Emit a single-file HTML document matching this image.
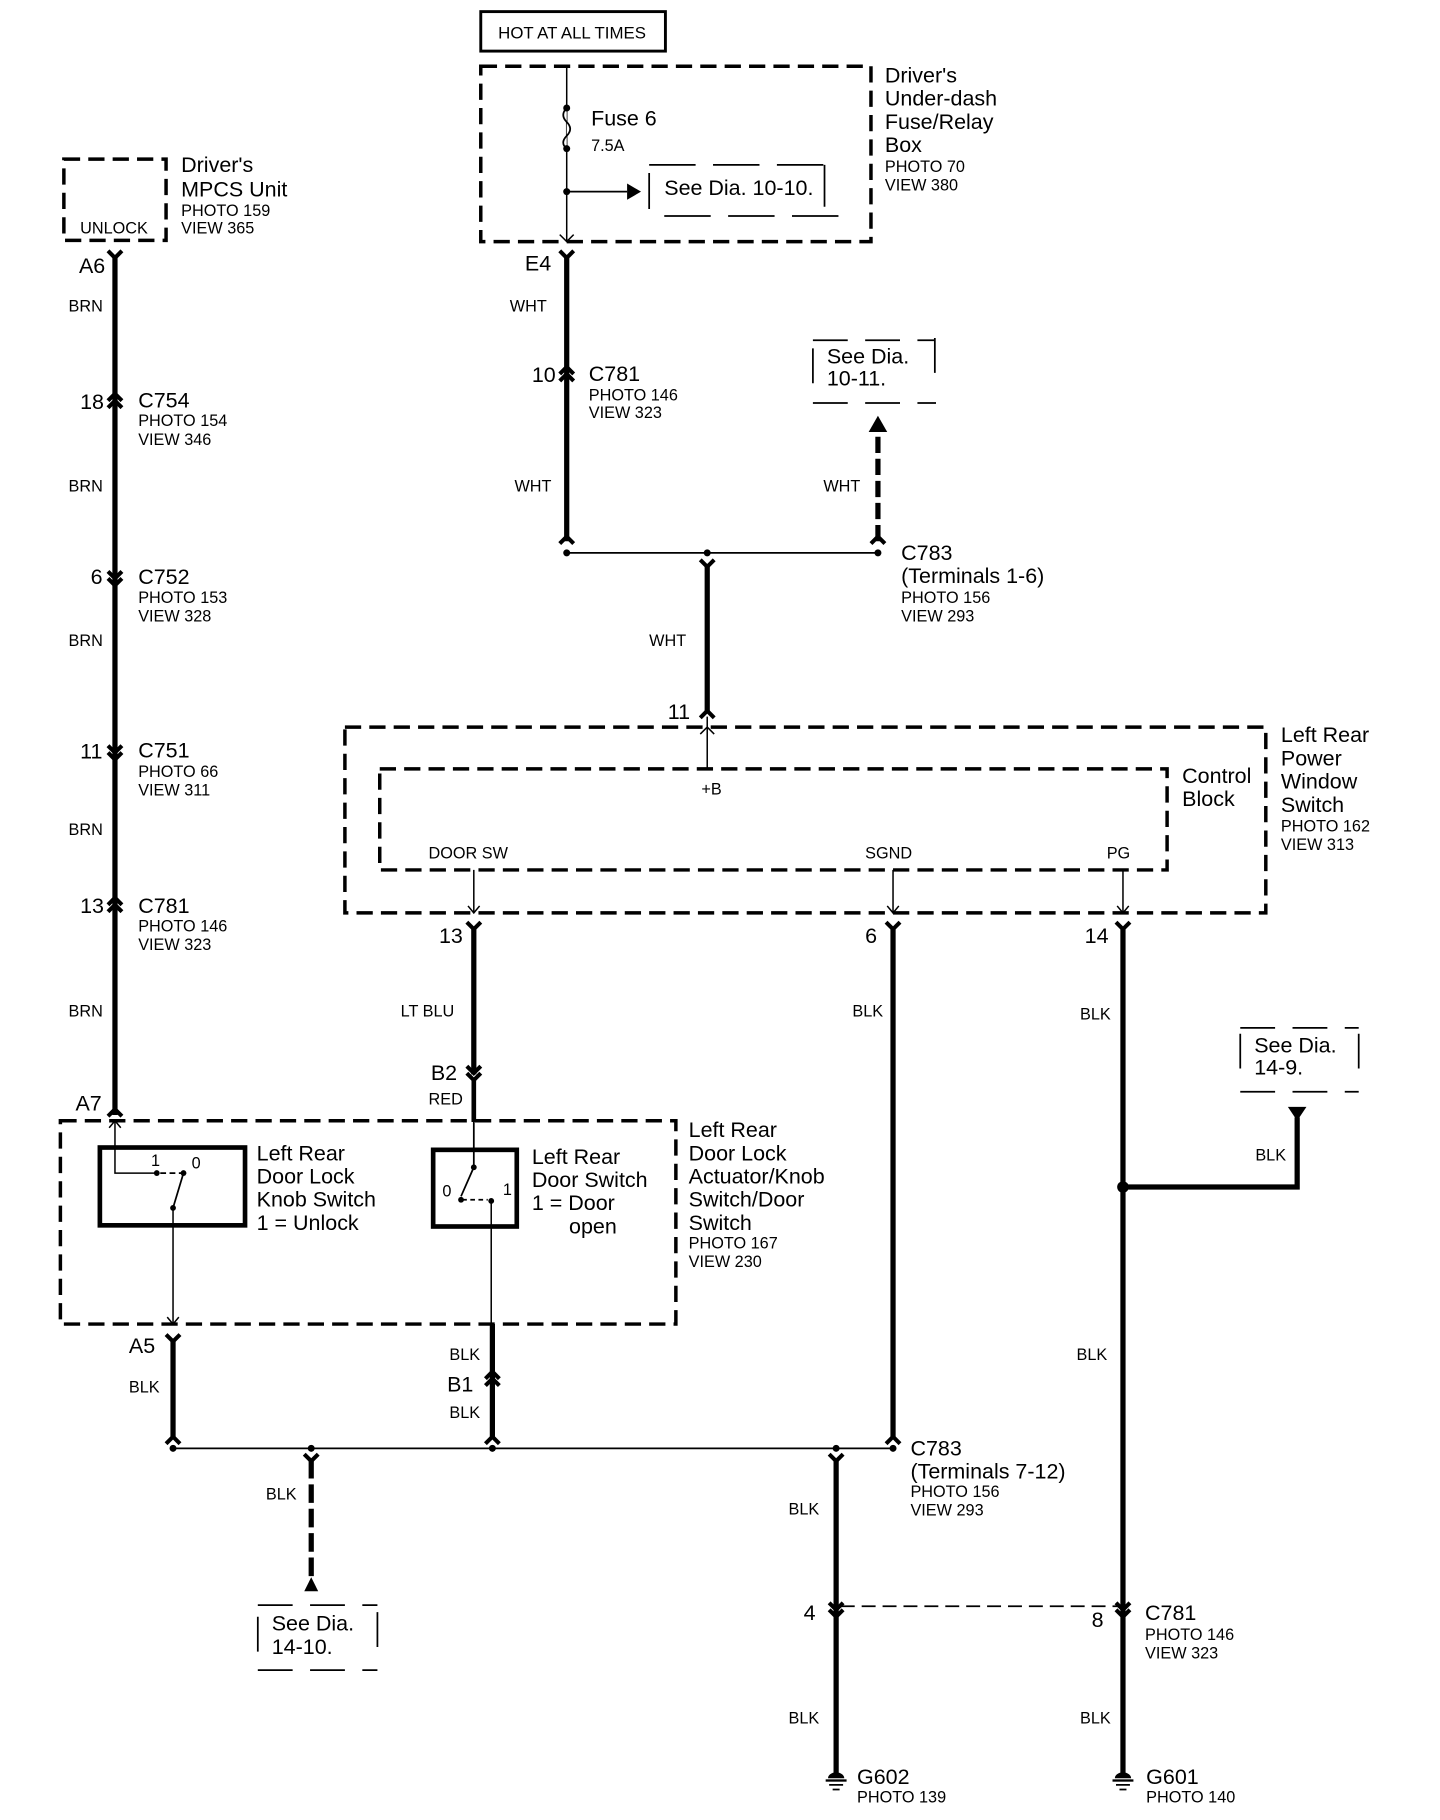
<!DOCTYPE html>
<html><head><meta charset="utf-8">
<style>
html,body{margin:0;padding:0;background:#fff;}
svg{display:block;}
text{font-family:"Liberation Sans",Arial,sans-serif;fill:#000;}
.b{font-size:18.5px;}
.s{font-size:14px;}
.m{font-size:14.5px;}
</style></head>
<body>
<svg width="1440" height="1820" viewBox="0 0 1240 1567" preserveAspectRatio="none" xmlns="http://www.w3.org/2000/svg">
<g fill="none" stroke="#000">
<rect x="414" y="10" width="159" height="34" stroke-width="2.5"/>
<rect x="414" y="57" width="336" height="151" stroke-width="3" stroke-dasharray="14,7"/>
<path d="M488 57 V208" stroke-width="1.3"/>
<path d="M488 93 q-6 6 0 12 q6 6 0 12 q-6 6 0 11" stroke-width="1.5" fill="#fff"/>
<path d="M488 165 H540" stroke-width="1.5"/>
<path d="M482 202 L488 208 L494 202" stroke-width="1.3"/>
<path d="M559 142 H710 M710 142 V178 M559 149 V180 M572 186 H722" stroke-width="1.5" stroke-dasharray="40,15"/>
<rect x="55" y="137" width="88" height="70" stroke-width="3" stroke-dasharray="14,7"/>
<path d="M99 222 V960" stroke-width="4.5"/>
<path d="M488 222 V466" stroke-width="4.5"/>
<path d="M488 476 H756" stroke-width="1.5"/>
<path d="M756 466 V372" stroke-width="4.5" stroke-dasharray="14,5"/>
<path d="M609 486 V612" stroke-width="4.5"/>
<path d="M609 617 V662" stroke-width="1.3"/>
<path d="M603 632 L609 626 L615 632" stroke-width="1.3"/>
<path d="M700 293 H805 M700 300 V340 M805 291 V333 M700 347 H806" stroke-width="1.5" stroke-dasharray="30,15"/>
<rect x="297" y="626" width="793" height="160" stroke-width="3" stroke-dasharray="14,7"/>
<rect x="327" y="662" width="678" height="87" stroke-width="3" stroke-dasharray="14,7"/>
<path d="M408 749 V786 M769 749 V786 M967 749 V786" stroke-width="1.3"/>
<path d="M403 780 L408 786 L413 780 M764 780 L769 786 L774 780 M962 780 L967 786 L972 780" stroke-width="1.3"/>
<path d="M408 800 V925" stroke-width="4.5"/>
<path d="M408 928 V966" stroke-width="4"/>
<path d="M769 800 V1238" stroke-width="4.5"/>
<path d="M967 800 V1530" stroke-width="4.5"/>
<path d="M967 1022 H1117 V962" stroke-width="4.5"/>
<path d="M1068 885 H1170 M1170 890 V930 M1068 890 V935 M1068 940 H1170" stroke-width="1.5" stroke-dasharray="30,15"/>
<rect x="52" y="965" width="530" height="175" stroke-width="3" stroke-dasharray="14,7"/>
<rect x="86" y="988" width="125" height="67" stroke-width="4"/>
<rect x="373" y="990" width="72" height="66" stroke-width="4"/>
<path d="M99 965 V1010 H135" stroke-width="1.3"/>
<path d="M94 971 L99 965 L104 971" stroke-width="1.3"/>
<path d="M138 1010 H157" stroke-width="1.5" stroke-dasharray="5,3"/>
<path d="M158 1010 L149 1040" stroke-width="1.5"/>
<path d="M149 1040 V1140" stroke-width="1.3"/>
<path d="M144 1134 L149 1140 L154 1134" stroke-width="1.3"/>
<path d="M408 966 V1005 L397 1030" stroke-width="1.5"/>
<path d="M398 1033 H420" stroke-width="1.5" stroke-dasharray="4,3"/>
<path d="M423 1034 V1140" stroke-width="1.3"/>
<path d="M149 1155 V1238" stroke-width="4.5"/>
<path d="M424 1140 V1238" stroke-width="4.5"/>
<path d="M149 1247 H769" stroke-width="1.5"/>
<path d="M268 1257 V1360" stroke-width="4.5" stroke-dasharray="16,5"/>
<path d="M222 1382 H325 M222 1392 V1432 M325 1388 V1430 M222 1438 H325" stroke-width="1.5" stroke-dasharray="30,15"/>
<path d="M720 1257 V1530" stroke-width="4.5"/>
<path d="M724 1383 H965" stroke-width="1.5" stroke-dasharray="12,6"/>
<g stroke-width="3.5">
<path d="M93 216 L99 222 L105 216"/>
<path d="M482 216 L488 222 L494 216"/>
<path d="M402 794 L408 800 L414 794"/>
<path d="M763 794 L769 800 L775 794"/>
<path d="M961 794 L967 800 L973 794"/>
<path d="M143 1149 L149 1155 L155 1149"/>
<path d="M93 961 L99 955 L105 961"/>
<path d="M603 618 L609 612 L615 618"/>
<path d="M93 345 L99 339 L105 345 M93 351 L99 345 L105 351"/>
<path d="M482 322 L488 316 L494 322 M482 328 L488 322 L494 328"/>
<path d="M93 492 L99 498 L105 492 M93 498 L99 504 L105 498"/>
<path d="M93 642 L99 648 L105 642 M93 648 L99 654 L105 648"/>
<path d="M93 779 L99 773 L105 779 M93 785 L99 779 L105 785"/>
<path d="M402 918 L408 924 L414 918 M402 924 L408 930 L414 924"/>
<path d="M418 1187 L424 1181 L430 1187 M418 1193 L424 1187 L430 1193"/>
<path d="M714 1380 L720 1386 L726 1380 M714 1386 L720 1392 L726 1386"/>
<path d="M961 1380 L967 1386 L973 1380 M961 1386 L967 1392 L973 1386"/>
<path d="M482 468 L488 462 L494 468"/>
<path d="M750 468 L756 462 L762 468"/>
<path d="M603 482 L609 488 L615 482"/>
<path d="M143 1243 L149 1237 L155 1243"/>
<path d="M418 1243 L424 1237 L430 1243"/>
<path d="M763 1243 L769 1237 L775 1243"/>
<path d="M262 1252 L268 1258 L274 1252"/>
<path d="M714 1252 L720 1258 L726 1252"/>
</g>
</g>
<g fill="#000">
<circle cx="488" cy="93" r="3"/><circle cx="488" cy="128" r="3"/><circle cx="488" cy="165" r="3"/>
<polygon points="540,158 552,165 540,172"/>
<polygon points="748,372 756,358 764,372"/>
<polygon points="1109,953 1125,953 1117,965"/>
<polygon points="262,1370 274,1370 268,1358"/>
<circle cx="488" cy="476" r="3"/><circle cx="609" cy="476" r="3"/><circle cx="756" cy="476" r="3"/>
<circle cx="149" cy="1247" r="3"/><circle cx="268" cy="1247" r="3"/><circle cx="424" cy="1247" r="3"/><circle cx="720" cy="1247" r="3"/><circle cx="769" cy="1247" r="3"/>
<circle cx="967" cy="1022" r="5"/>
<circle cx="135" cy="1010" r="2.5"/><circle cx="158" cy="1010" r="2.5"/><circle cx="149" cy="1040" r="2.5"/>
<circle cx="408" cy="1005" r="2.5"/><circle cx="397" cy="1033" r="2.5"/><circle cx="423" cy="1034" r="2.5"/>
<path d="M713 1531 a7 5 0 0 1 14 0 z"/><rect x="711" y="1532" width="18" height="2"/><rect x="714" y="1536" width="12" height="1.5"/><rect x="717" y="1540" width="6" height="1.5"/>
<path d="M960 1531 a7 5 0 0 1 14 0 z"/><rect x="958" y="1532" width="18" height="2"/><rect x="961" y="1536" width="12" height="1.5"/><rect x="964" y="1540" width="6" height="1.5"/>
</g>
<text x="429" y="33" class="m">HOT AT ALL TIMES</text>
<text x="509" y="108" class="b">Fuse 6</text>
<text x="509" y="130" class="s">7.5A</text>
<text x="572" y="168" class="b">See Dia. 10-10.</text>
<text x="762" y="71" class="b">Driver's</text>
<text x="762" y="91" class="b">Under-dash</text>
<text x="762" y="111" class="b">Fuse/Relay</text>
<text x="762" y="131" class="b">Box</text>
<text x="762" y="148" class="s">PHOTO 70</text>
<text x="762" y="164" class="s">VIEW 380</text>
<text x="69" y="201" class="s">UNLOCK</text>
<text x="156" y="148" class="b">Driver's</text>
<text x="156" y="169" class="b">MPCS Unit</text>
<text x="156" y="186" class="s">PHOTO 159</text>
<text x="156" y="201" class="s">VIEW 365</text>
<text x="68" y="235" class="b">A6</text>
<text x="452" y="233" class="b">E4</text>
<text x="59" y="268" class="s">BRN</text>
<text x="439" y="268" class="s">WHT</text>
<text x="458" y="329" class="b">10</text>
<text x="507" y="328" class="b">C781</text>
<text x="507" y="345" class="s">PHOTO 146</text>
<text x="507" y="360" class="s">VIEW 323</text>
<text x="712" y="313" class="b">See Dia.</text>
<text x="712" y="332" class="b">10-11.</text>
<text x="69" y="352" class="b">18</text>
<text x="119" y="351" class="b">C754</text>
<text x="119" y="367" class="s">PHOTO 154</text>
<text x="119" y="383" class="s">VIEW 346</text>
<text x="59" y="423" class="s">BRN</text>
<text x="443" y="423" class="s">WHT</text>
<text x="709" y="423" class="s">WHT</text>
<text x="776" y="482" class="b">C783</text>
<text x="776" y="502" class="b">(Terminals 1-6)</text>
<text x="776" y="519" class="s">PHOTO 156</text>
<text x="776" y="535" class="s">VIEW 293</text>
<text x="78" y="503" class="b">6</text>
<text x="119" y="503" class="b">C752</text>
<text x="119" y="519" class="s">PHOTO 153</text>
<text x="119" y="535" class="s">VIEW 328</text>
<text x="59" y="556" class="s">BRN</text>
<text x="559" y="556" class="s">WHT</text>
<text x="575" y="619" class="b">11</text>
<text x="69" y="653" class="b">11</text>
<text x="119" y="652" class="b">C751</text>
<text x="119" y="669" class="s">PHOTO 66</text>
<text x="119" y="685" class="s">VIEW 311</text>
<text x="1103" y="639" class="b">Left Rear</text>
<text x="1103" y="659" class="b">Power</text>
<text x="1103" y="679" class="b">Window</text>
<text x="1103" y="699" class="b">Switch</text>
<text x="1103" y="716" class="s">PHOTO 162</text>
<text x="1103" y="732" class="s">VIEW 313</text>
<text x="1018" y="674" class="b">Control</text>
<text x="1018" y="694" class="b">Block</text>
<text x="604" y="684" class="s">+B</text>
<text x="369" y="739" class="s">DOOR SW</text>
<text x="745" y="739" class="s">SGND</text>
<text x="953" y="739" class="s">PG</text>
<text x="59" y="719" class="s">BRN</text>
<text x="69" y="786" class="b">13</text>
<text x="119" y="786" class="b">C781</text>
<text x="119" y="802" class="s">PHOTO 146</text>
<text x="119" y="818" class="s">VIEW 323</text>
<text x="378" y="812" class="b">13</text>
<text x="745" y="812" class="b">6</text>
<text x="934" y="812" class="b">14</text>
<text x="59" y="875" class="s">BRN</text>
<text x="345" y="875" class="s">LT BLU</text>
<text x="734" y="875" class="s">BLK</text>
<text x="930" y="878" class="s">BLK</text>
<text x="1080" y="906" class="b">See Dia.</text>
<text x="1080" y="925" class="b">14-9.</text>
<text x="371" y="930" class="b">B2</text>
<text x="369" y="951" class="s">RED</text>
<text x="65" y="956" class="b">A7</text>
<text x="1081" y="999" class="s">BLK</text>
<text x="130" y="1004" class="s">1</text>
<text x="165" y="1006" class="s">0</text>
<text x="381" y="1030" class="s">0</text>
<text x="433" y="1029" class="s">1</text>
<text x="221" y="999" class="b">Left Rear</text>
<text x="221" y="1019" class="b">Door Lock</text>
<text x="221" y="1039" class="b">Knob Switch</text>
<text x="221" y="1059" class="b">1 = Unlock</text>
<text x="458" y="1002" class="b">Left Rear</text>
<text x="458" y="1022" class="b">Door Switch</text>
<text x="458" y="1042" class="b">1 = Door</text>
<text x="490" y="1062" class="b">open</text>
<text x="593" y="979" class="b">Left Rear</text>
<text x="593" y="999" class="b">Door Lock</text>
<text x="593" y="1019" class="b">Actuator/Knob</text>
<text x="593" y="1039" class="b">Switch/Door</text>
<text x="593" y="1059" class="b">Switch</text>
<text x="593" y="1075" class="s">PHOTO 167</text>
<text x="593" y="1091" class="s">VIEW 230</text>
<text x="111" y="1165" class="b">A5</text>
<text x="927" y="1171" class="s">BLK</text>
<text x="387" y="1171" class="s">BLK</text>
<text x="111" y="1199" class="s">BLK</text>
<text x="385" y="1198" class="b">B1</text>
<text x="387" y="1221" class="s">BLK</text>
<text x="784" y="1253" class="b">C783</text>
<text x="784" y="1273" class="b">(Terminals 7-12)</text>
<text x="784" y="1289" class="s">PHOTO 156</text>
<text x="784" y="1305" class="s">VIEW 293</text>
<text x="229" y="1291" class="s">BLK</text>
<text x="679" y="1304" class="s">BLK</text>
<text x="692" y="1395" class="b">4</text>
<text x="940" y="1401" class="b">8</text>
<text x="986" y="1395" class="b">C781</text>
<text x="986" y="1412" class="s">PHOTO 146</text>
<text x="986" y="1428" class="s">VIEW 323</text>
<text x="234" y="1404" class="b">See Dia.</text>
<text x="234" y="1424" class="b">14-10.</text>
<text x="679" y="1484" class="s">BLK</text>
<text x="930" y="1484" class="s">BLK</text>
<text x="738" y="1536" class="b">G602</text>
<text x="738" y="1552" class="s">PHOTO 139</text>
<text x="987" y="1536" class="b">G601</text>
<text x="987" y="1552" class="s">PHOTO 140</text>
</svg>
</body></html>
